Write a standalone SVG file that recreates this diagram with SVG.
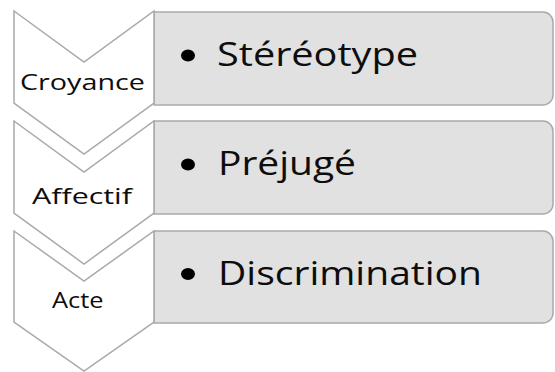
<svg xmlns="http://www.w3.org/2000/svg" width="555" height="372" viewBox="0 0 555 372">
<style>
.box{fill:#e1e1e1;stroke:#a9a9a9;stroke-width:1.5}
.chev{fill:#ffffff;stroke:#a9a9a9;stroke-width:1.5;stroke-linejoin:miter}
.lbl{font-family:"Open Sans","Noto Sans",sans-serif;font-size:22px;fill:#0d0d0d}
.item{font-family:"Open Sans","Noto Sans",sans-serif;font-size:32px;fill:#0d0d0d}
.dot{fill:#000}
</style>
<rect width="555" height="372" fill="#ffffff"/>
<g id="connectors"></g>
<g id="node-stereotype">
<path class="box" d="M154,12 H543 A10,10 0 0 1 553,22 V95 A10,10 0 0 1 543,105 H154 Z"/>
<ellipse class="dot" cx="188" cy="55.5" rx="7" ry="6"/>
<text class="item" x="217" y="66" textLength="201" lengthAdjust="spacingAndGlyphs">Stéréotype</text>
</g>
<g id="node-prejuge">
<path class="box" d="M154,121 H543 A10,10 0 0 1 553,131 V204 A10,10 0 0 1 543,214 H154 Z"/>
<ellipse class="dot" cx="188" cy="164.5" rx="7" ry="6"/>
<text class="item" x="218" y="175" textLength="138" lengthAdjust="spacingAndGlyphs">Préjugé</text>
</g>
<g id="node-discrimination">
<path class="box" d="M154,231 H543 A10,10 0 0 1 553,241 V313 A10,10 0 0 1 543,323 H154 Z"/>
<ellipse class="dot" cx="188" cy="274" rx="7" ry="6"/>
<text class="item" x="218" y="285" textLength="264" lengthAdjust="spacingAndGlyphs">Discrimination</text>
</g>
<g id="node-croyance">
<path class="chev" d="M14,11 L84,62 L154,11 L154,103 L84,154 L14,103 Z"/>
<text class="lbl" x="20" y="89.5" textLength="125" lengthAdjust="spacingAndGlyphs">Croyance</text>
</g>
<g id="node-affectif">
<path class="chev" d="M14,121 L84,172 L154,121 L154,213 L84,264 L14,213 Z"/>
<text class="lbl" x="32" y="203.5" textLength="100" lengthAdjust="spacingAndGlyphs">Affectif</text>
</g>
<g id="node-acte">
<path class="chev" d="M14,231 L84,281 L154,231 L154,322 L84,371 L14,322 Z"/>
<text class="lbl" x="52" y="308" textLength="51.5" lengthAdjust="spacingAndGlyphs">Acte</text>
</g>
</svg>
